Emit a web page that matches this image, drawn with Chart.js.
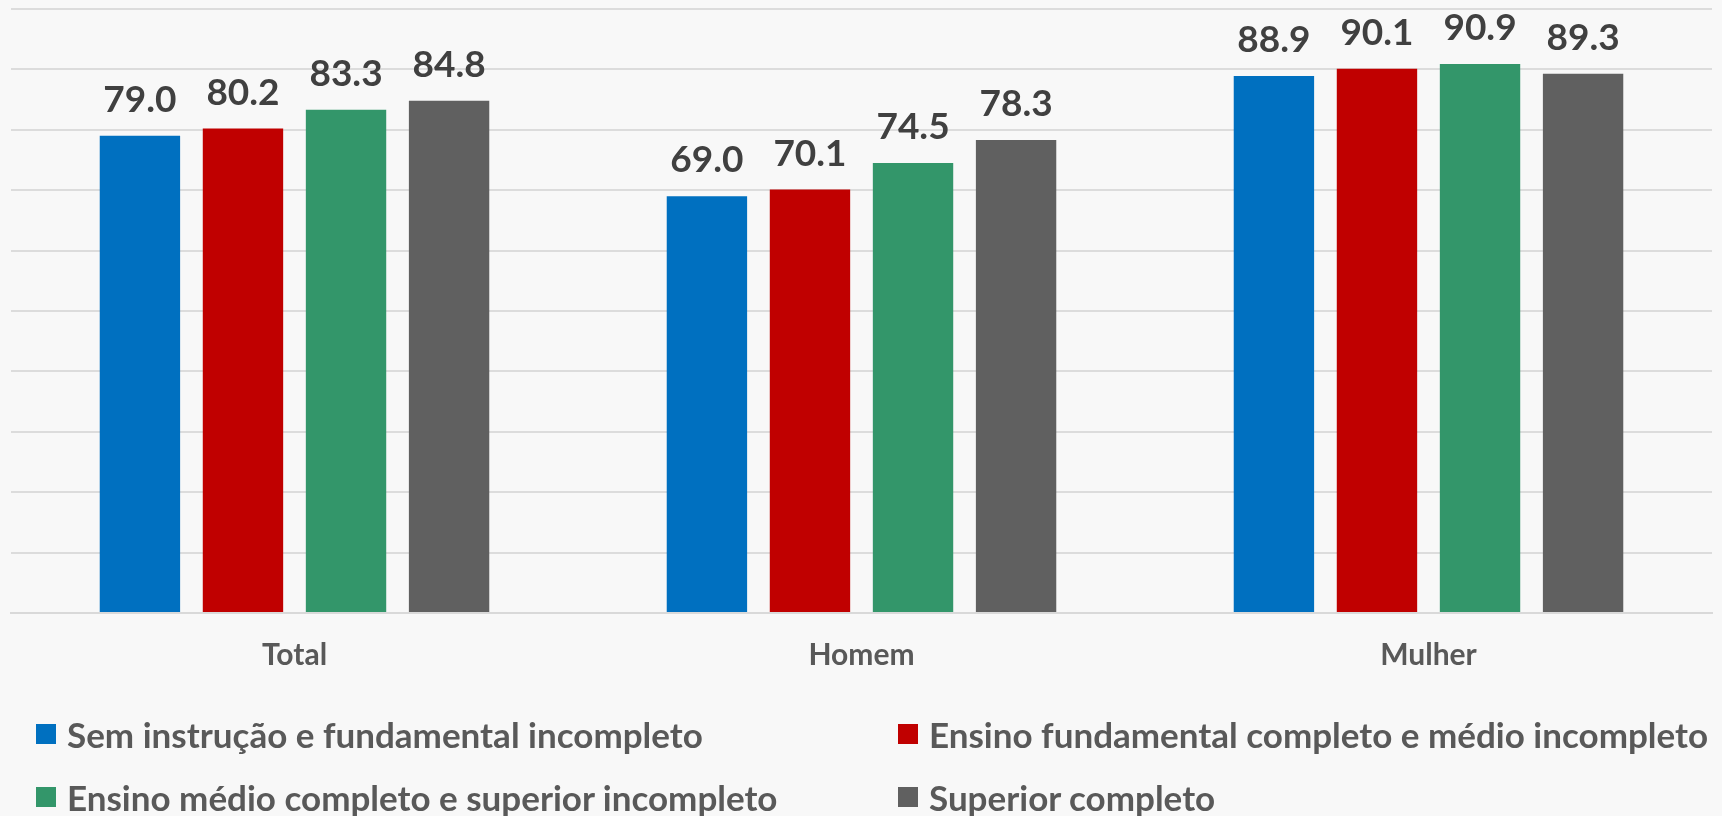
<!DOCTYPE html>
<html>
<head>
<meta charset="utf-8">
<script src="https://cdn.jsdelivr.net/npm/chart.js@4/dist/chart.umd.min.js"></script>
<style>
  html, body { margin: 0; padding: 0; background: #f8f8f8; }
  #wrap { position: relative; width: 1722px; height: 816px; }
  #legend { position: absolute; left: 0; top: 0; width: 1722px; height: 816px; pointer-events: none;
    font-family: Lato, sans-serif; font-weight: 700; font-size: 35px; color: #595959; }
  .item { position: absolute; display: flex; align-items: center; white-space: nowrap; }
  .box { width: 20px; height: 20px; margin-right: 11px; }
</style>
</head>
<body>
<div id="wrap">
  <canvas id="chart" width="1722" height="816"></canvas>
  <div id="legend"></div>
</div>
<script>
const categories = [`Total`, `Homem`, `Mulher`];
const seriesNames = [
  `Sem instrução e fundamental incompleto`,
  `Ensino fundamental completo e médio incompleto`,
  `Ensino médio completo e superior incompleto`,
  `Superior completo`
];
const semInstrucao = [79.0, 69.0, 88.9];
const fundamental = [80.2, 70.1, 90.1];
const medio = [83.3, 74.5, 90.9];
const superior = [84.8, 78.3, 89.3];
const colors = [`#0070c0`, `#c00000`, `#33966a`, `#606060`];

// legend slots: [left, centre y]
const legendSlots = [[36, 734], [898, 734], [36, 797], [898, 797]];

const valueLabels = {
  id: `valueLabels`,
  afterDatasetsDraw(chart) {
    const ctx = chart.ctx;
    ctx.save();
    ctx.font = `700 37px Lato`;
    ctx.fillStyle = `#404040`;
    ctx.textAlign = `center`;
    ctx.textBaseline = `alphabetic`;
    chart.data.datasets.forEach((ds, i) => {
      chart.getDatasetMeta(i).data.forEach((bar, j) => {
        ctx.fillText(ds.data[j].toFixed(1), bar.x, bar.y - 24);
      });
    });
    ctx.restore();
  }
};

const chart = new Chart(document.getElementById(`chart`), {
  type: `bar`,
  data: {
    labels: categories,
    datasets: [semInstrucao, fundamental, medio, superior].map((data, i) => ({
      label: seriesNames[i],
      data,
      backgroundColor: colors[i],
      borderWidth: 0,
      categoryPercentage: 0.727,
      barPercentage: 0.78
    }))
  },
  options: {
    responsive: false,
    animation: false,
    layout: {padding: {top: 9, left: 11, right: 10, bottom: 127}},
    plugins: {legend: {display: false}, tooltip: {enabled: false}},
    scales: {
      x: {
        grid: {display: false},
        border: {color: `#d9d9d9`, width: 2},
        ticks: {
          padding: 16,
          color: `#595959`,
          font: {family: `Lato`, weight: `700`, size: 30}
        }
      },
      y: {
        min: 0,
        max: 100,
        ticks: {display: false, stepSize: 10},
        border: {display: false},
        grid: {color: `#dcdcdc`, lineWidth: 2, drawTicks: false}
      }
    }
  },
  plugins: [valueLabels]
});

const legendEl = document.getElementById(`legend`);
chart.data.datasets.forEach((ds, i) => {
  const item = document.createElement(`div`);
  item.className = `item`;
  item.style.left = legendSlots[i][0] + `px`;
  item.style.top = (legendSlots[i][1] - 20) + `px`;
  item.style.height = `40px`;
  item.innerHTML = `<span class="box" style="background:${ds.backgroundColor}"></span><span>${ds.label}</span>`;
  legendEl.appendChild(item);
});
</script>
</body>
</html>
